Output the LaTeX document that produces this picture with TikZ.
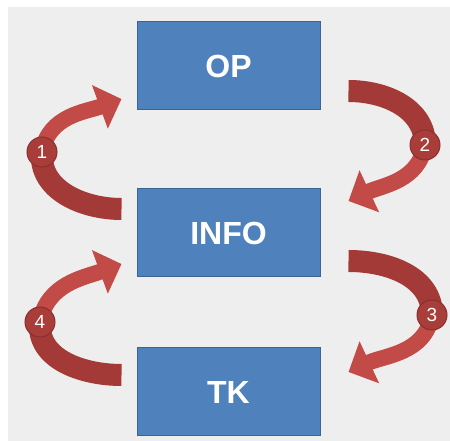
\documentclass[tikz,border=0pt]{standalone}
\usepackage{fontspec}
\setmainfont{Liberation Sans}
\usepackage{tikz}
\usepackage{xcolor}
\usetikzlibrary{arrows.meta,positioning,calc}
\definecolor{paper}{HTML}{EEEEEE}
\definecolor{boxblue}{HTML}{4F81BD}
\definecolor{boxedge}{HTML}{3A6496}
\definecolor{redlight}{HTML}{C24B48}
\definecolor{reddark}{HTML}{A33A37}
\definecolor{rededge}{HTML}{8A2F2D}
\tikzset{
  box/.style={draw=boxedge,fill=boxblue,line width=1pt,minimum width=183pt,minimum height=88pt,inner sep=0pt,font=\fontsize{32}{34}\selectfont\bfseries,text=white},
  badge/.style={circle,draw=rededge,fill=reddark!85!redlight,line width=1pt,minimum size=30pt,inner sep=0pt,font=\fontsize{19}{20}\selectfont,text=white},
  tailpart/.style={line width=22pt,draw=reddark},
  headpart/.style={line width=16pt,draw=redlight,-{Triangle[width=45pt,length=23pt]}}
}
\begin{document}
\begin{tikzpicture}[x=1pt,y=1pt]
    \useasboundingbox (0,0) rectangle (450,441);
    \fill[paper] (8,0) rectangle (450,434);

    \node[box] (op) at (228.5,375) {OP};
    \node[box,below=78pt of op] (info) {INFO};
    \node[box,below=70pt of info] (tk) {TK};

    % arrow ends beside the boxes
    \coordinate (t1) at ($(info.west)+(-15,24)$);
    \coordinate (h1) at ($(op.west)+(-15,-33)$);
    \coordinate (t2) at ($(op.east)+(28,-25)$);
    \coordinate (h2) at ($(info.east)+(28,32)$);
    \coordinate (t3) at ($(info.east)+(28,-28)$);
    \coordinate (h3) at ($(tk.east)+(28,20)$);
    \coordinate (t4) at ($(tk.west)+(-15,17)$);
    \coordinate (h4) at ($(info.west)+(-15,-31)$);
    % turning points
    \coordinate (k1) at (42,289);
    \coordinate (k2) at (425,296);
    \coordinate (k3) at (432,126);
    \coordinate (k4) at (40,119);

    \draw[tailpart] (t1) to[out=180,in=-95] (k1);
    \draw[headpart] (k1) to[out=80,in=200] (h1);
    \draw[tailpart] (t2) to[out=0,in=90] (k2);
    \draw[headpart] (k2) to[out=-100,in=25] (h2);
    \draw[tailpart] (t3) to[out=0,in=90] (k3);
    \draw[headpart] (k3) to[out=-100,in=25] (h3);
    \draw[tailpart] (t4) to[out=180,in=-95] (k4);
    \draw[headpart] (k4) to[out=80,in=200] (h4);

    \node[badge] (c1) at (k1) {1};
    \node[badge] (c2) at (k2) {2};
    \node[badge] (c3) at (k3) {3};
    \node[badge] (c4) at (k4) {4};
\end{tikzpicture}
\end{document}
